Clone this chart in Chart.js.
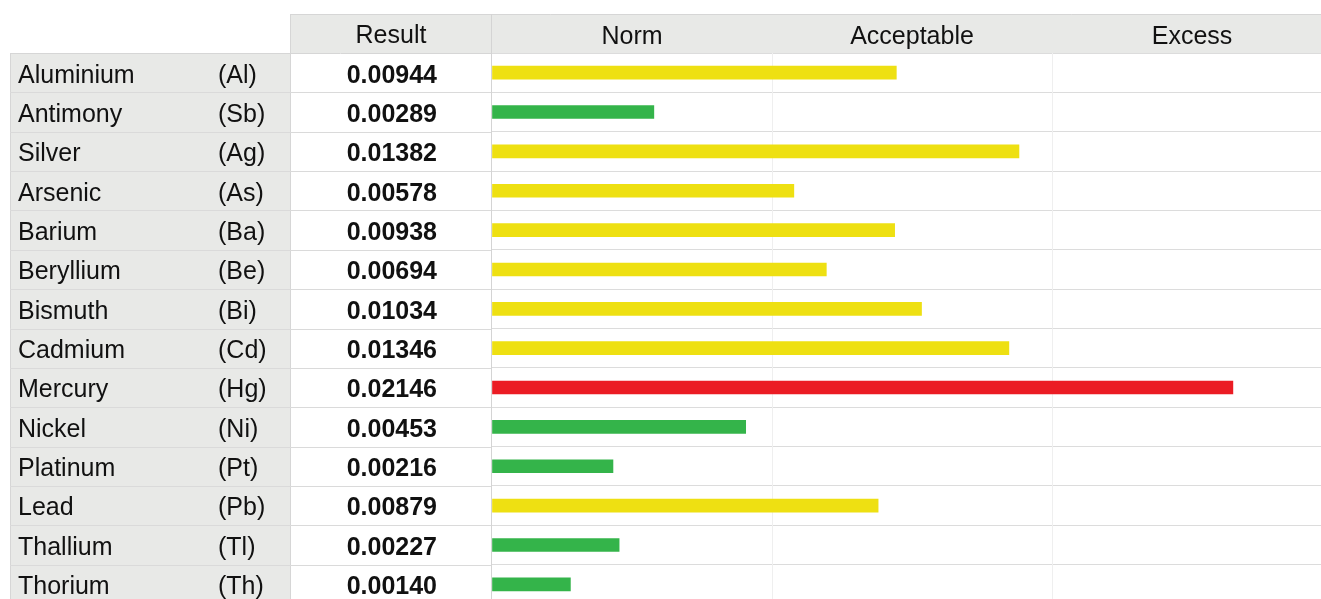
<!DOCTYPE html>
<html>
<head>
<meta charset="utf-8">
<script src="https://cdn.jsdelivr.net/npm/chart.js@4.4.1/dist/chart.umd.min.js"></script>
<style>
  html, body { margin: 0; padding: 0; background: #fff; overflow: hidden; }
  #wrap { width: 1321px; height: 599px; overflow: hidden; }
</style>
</head>
<body>
<div id="wrap"><canvas id="myChart" width="1332" height="604"></canvas></div>
<script>
const elements = ['Aluminium', 'Antimony', 'Silver', 'Arsenic', 'Barium', 'Beryllium', 'Bismuth',
  'Cadmium', 'Mercury', 'Nickel', 'Platinum', 'Lead', 'Thallium', 'Thorium'];
const symbols = ['(Al)', '(Sb)', '(Ag)', '(As)', '(Ba)', '(Be)', '(Bi)',
  '(Cd)', '(Hg)', '(Ni)', '(Pt)', '(Pb)', '(Tl)', '(Th)'];
const results = [0.00944, 0.00289, 0.01382, 0.00578, 0.00938, 0.00694, 0.01034,
  0.01346, 0.02146, 0.00453, 0.00216, 0.00879, 0.00227, 0.00140];
const zoneNames = ['Norm', 'Acceptable', 'Excess'];
const zoneLimits = [0, 0.005, 0.015, 0.025];
const zoneColors = ['#34b44a', '#eee012', '#eb1c24'];

const FONT = "'Liberation Sans', Arial, sans-serif";
const TEXT = '#111';

// which zone a value falls in, and where it sits on a 0..3 zone axis
function zoneOf(v) {
  for (let i = 0; i < zoneNames.length; i++) {
    if (v < zoneLimits[i + 1]) return i;
  }
  return zoneNames.length - 1;
}
function zonePos(v) {
  const i = zoneOf(v);
  return i + (v - zoneLimits[i]) / (zoneLimits[i + 1] - zoneLimits[i]);
}

const tablePlugin = {
  id: 'tableBg',
  beforeDraw(chart) {
    const c = chart.ctx;
    const area = chart.chartArea;
    c.save();
    c.fillStyle = '#fff';
    c.fillRect(0, 0, chart.width, chart.height);
    // header band
    c.fillStyle = '#e8e9e7';
    c.fillRect(290, 14, chart.width - 290, area.top - 14);
    // name column
    c.fillRect(10, area.top, 280, area.bottom - area.top);
    c.strokeStyle = '#d6d6d6';
    c.lineWidth = 1;
    c.beginPath();
    c.moveTo(290, 14.5); c.lineTo(chart.width, 14.5);
    c.moveTo(290.5, 14); c.lineTo(290.5, area.bottom);
    c.moveTo(10, area.top + 0.5); c.lineTo(chart.width, area.top + 0.5);
    c.moveTo(10.5, area.top); c.lineTo(10.5, area.bottom);
    c.stroke();
    // row separators across the left columns
    const y = chart.scales.y;
    c.strokeStyle = '#dadada';
    c.beginPath();
    for (let i = 1; i < elements.length; i++) {
      const py = Math.round((y.getPixelForValue(i - 1) + y.getPixelForValue(i)) / 2) + 0.5;
      c.moveTo(10, py); c.lineTo(area.left, py);
    }
    c.stroke();
    // "Result" header
    c.fillStyle = TEXT;
    c.font = '25px ' + FONT;
    c.textAlign = 'center';
    c.textBaseline = 'middle';
    c.fillText('Result', 391, (14 + area.top) / 2 + 3);
    c.restore();
  },
  beforeDatasetsDraw(chart) {
    const c = chart.ctx;
    c.save();
    c.strokeStyle = '#d4d4d4';
    c.lineWidth = 1;
    c.beginPath();
    c.moveTo(chart.chartArea.left - 0.5, 14);
    c.lineTo(chart.chartArea.left - 0.5, chart.chartArea.bottom);
    c.stroke();
    c.restore();
  }
};

// fixed column width, and no label overhang at the top and bottom
function fixWidth(w) {
  return function (scale) {
    scale.width = w;
    scale.paddingTop = 0;
    scale.paddingBottom = 0;
  };
}

const ctx = document.getElementById('myChart').getContext('2d');
const myChart = new Chart(ctx, {
  type: 'bar',
  data: {
    labels: elements,
    datasets: [{
      data: results.map(zonePos),
      backgroundColor: results.map(v => zoneColors[zoneOf(v)]),
      borderWidth: 0,
      barThickness: 13
    }]
  },
  options: {
    indexAxis: 'y',
    responsive: false,
    animation: false,
    layout: { padding: { left: 18, top: 14, right: 0, bottom: 0 } },
    plugins: { legend: { display: false }, tooltip: { enabled: false } },
    scales: {
      y: {
        position: 'left',
        weight: 3,
        afterFit: fixWidth(200),
        border: { display: false },
        grid: { offset: true, drawTicks: false, color: '#dcdcdc' },
        ticks: { crossAlign: 'far', padding: 0, labelOffset: 3, color: TEXT, font: { family: FONT, size: 25 } }
      },
      ySym: {
        type: 'category',
        labels: symbols,
        offset: true,
        position: 'left',
        weight: 2,
        afterFit: fixWidth(72),
        border: { display: false },
        grid: { display: false, drawTicks: false },
        ticks: { crossAlign: 'far', padding: 0, labelOffset: 3, color: TEXT, font: { family: FONT, size: 25 } }
      },
      yRes: {
        type: 'category',
        labels: results.map(v => v.toFixed(5)),
        offset: true,
        position: 'left',
        weight: 1,
        afterFit: fixWidth(202),
        border: { display: false },
        grid: { display: false, drawTicks: false },
        ticks: { crossAlign: 'near', padding: 55, labelOffset: 3, color: TEXT, font: { family: FONT, size: 25, weight: 'bold' } }
      },
      x: {
        min: 0,
        max: 3,
        position: 'bottom',
        afterFit: (scale) => { scale.height = 0; scale.paddingLeft = 0; scale.paddingRight = 0; },
        border: { display: false },
        grid: {
          drawTicks: false,
          color: (c) => (c.tick && (c.tick.value === 1 || c.tick.value === 2)) ? '#efefef' : 'transparent'
        },
        ticks: { display: false, stepSize: 1 }
      },
      xHead: {
        type: 'category',
        labels: zoneNames,
        offset: true,
        position: 'top',
        afterFit: (scale) => { scale.height = 39; scale.paddingLeft = 0; scale.paddingRight = 0; },
        border: { display: false },
        grid: { display: false, drawTicks: false },
        ticks: { padding: 1, color: TEXT, font: { family: FONT, size: 25 } }
      }
    }
  },
  plugins: [tablePlugin]
});
</script>
</body>
</html>
